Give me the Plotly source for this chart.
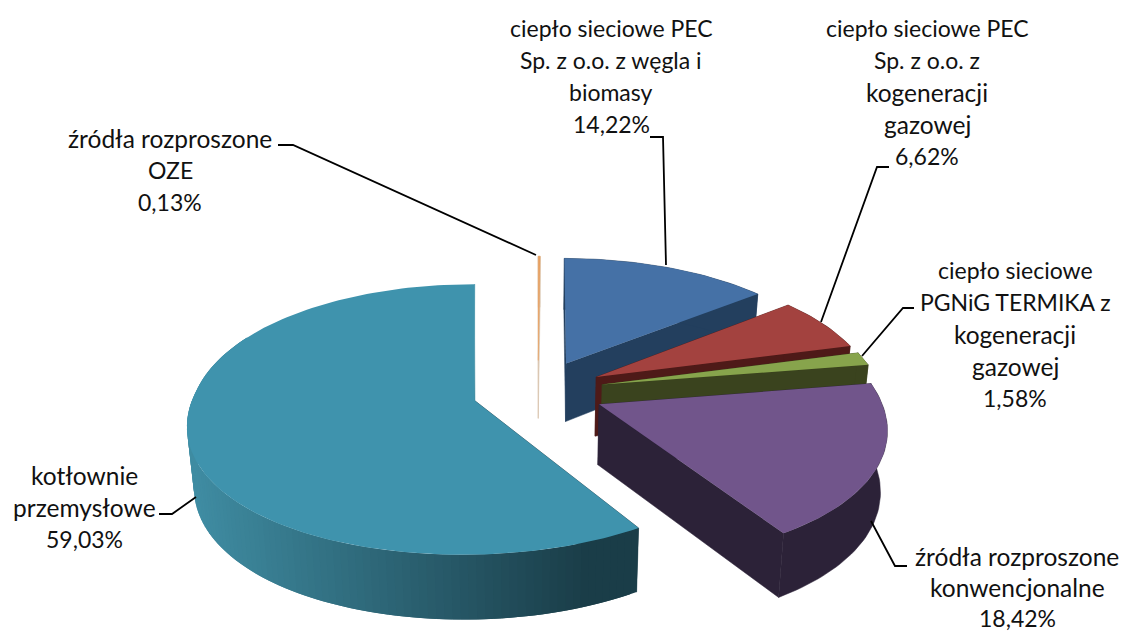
import math
import plotly.graph_objects as go

categories = ["źródła rozproszone OZE", "ciepło sieciowe PEC Sp. z o.o. z węgla i biomasy",
              "ciepło sieciowe PEC Sp. z o.o. z kogeneracji gazowej",
              "ciepło sieciowe PGNiG TERMIKA z kogeneracji gazowej",
              "źródła rozproszone konwencjonalne", "kotłownie przemysłowe"]
values = [0.13, 14.22, 6.62, 1.58, 18.42, 59.03]
label_lines = [["źródła rozproszone", "OZE"],
               ["ciepło sieciowe PEC", "Sp. z o.o. z węgla i", "biomasy"],
               ["ciepło sieciowe PEC", "Sp. z o.o. z", "kogeneracji", "gazowej"],
               ["ciepło sieciowe", "PGNiG TERMIKA z", "kogeneracji", "gazowej"],
               ["źródła rozproszone", "konwencjonalne"],
               ["kotłownie", "przemysłowe"]]
top_colors = ["#E8A060", "#4571A6", "#A3423F", "#87A44C", "#71558B", "#3F93AD"]
side_colors = ["#D8C4AE", "#233F5E", "#4E1A18", "#3A431E", "#2C2238", None]
label_pos = [(170, 138), (611, 28), (927, 28), (1015, 270), (1017, 556), (84, 475)]
label_lh = [32, 32, 32, 32, 31, 32]
leaders = [[(278, 145), (293, 145), (536, 255)],
           [(650, 137), (663, 137), (666, 265)],
           [(889, 167), (877, 167), (821, 322)],
           [(914, 308), (903, 308), (862, 356)],
           [(871, 521), (895, 566), (907, 566)],
           [(196, 497), (172, 514), (159, 514)]]

CX, CY, R, D, A, H = 538, 391, 279, 66, 0.485, 60
KX, KF, KB, TAPER = 0.00055, 0.0004, 0.0007, 0.02
FONT = "Lato"
FS = 23
FS_WIDE = 24.5
WIDE_WORDS = ("źródła", "konwencjonalne", "przemysłowe", "kogeneracji", "gazowej", "kotłownie")


def proj(X, Y, z=0.0, ax=None):
    sx = 1 / (1 - KX * Y)
    sy = 1 / (1 - (KF if Y > 0 else KB) * Y)
    m = 1 - TAPER * z
    if ax is not None and Y < 0:
        px = CX + ax + (X - ax) * sx * m
    else:
        px = CX + X * sx * m
    return px, CY + A * Y * sy * m + H * sy * z


def poly(pts, color, width=0.0):
    xs = [p[0] for p in pts] + [pts[0][0]]
    ys = [p[1] for p in pts] + [pts[0][1]]
    return go.Scatter(x=xs, y=ys, mode="lines", fill="toself", fillcolor=color,
                      line=dict(color=color, width=width), hoverinfo="skip", showlegend=False)


def mix(c1, c2, t):
    a = [int(c1[i:i + 2], 16) for i in (1, 3, 5)]
    b = [int(c2[i:i + 2], 16) for i in (1, 3, 5)]
    return "#" + "".join(f"{round(p + (q - p) * t):02x}" for p, q in zip(a, b))


total = sum(values)
slices = []
start = 0.0
for i, v in enumerate(values):
    end = start + v / total * 2 * math.pi
    slices.append((i, start, end))
    start = end


def build(i, a0, a1):
    out = []
    mid = (a0 + a1) / 2
    ax, ay = D * math.sin(mid), -D * math.cos(mid)
    n = max(2, int((a1 - a0) / 0.025))
    angs = [a0 + (a1 - a0) * j / n for j in range(n + 1)]
    gradient = side_colors[i] is None
    lean = ax if gradient else None
    pt = lambda t, z=0.0: proj(ax + R * math.sin(t), ay - R * math.cos(t), z, lean)
    ap0, ap1 = proj(ax, ay, 0, lean), proj(ax, ay, 1, lean)
    sc = side_colors[i] or "#3F8CA2"
    # cut faces
    out.append(poly([ap0, pt(a0), pt(a0, 1), ap1], "#1A3D48" if gradient else sc, 0.5))
    out.append(poly([ap0, pt(a1), pt(a1, 1), ap1], sc, 0.5))
    # outer wall
    if gradient:
        # visible part only, painted right to left with overlap so no seams show
        vis = [t for t in angs if t < math.radians(300)]
        for j in range(len(vis) - 1):
            t0, t1 = vis[j], vis[min(j + 2, len(vis) - 1)]
            c = mix("#3F8CA2", "#1A3D48", min(1, max(0, (pt(t0)[0] - 195) / 395)))
            mids = [t0 + (t1 - t0) * q / 3 for q in range(4)]
            out.append(poly([pt(t) for t in mids] + [pt(t, 1) for t in reversed(mids)], c))
    else:
        out.append(poly([pt(t) for t in angs] + [pt(t, 1) for t in reversed(angs)], sc, 0.5))
    # top face
    out.append(poly([ap0] + [pt(t) for t in angs], top_colors[i], 0.5 if i == 0 else 0))
    return out


fig = go.Figure()
# painter's order, back to front
for i in [1, 0, 2, 3, 4, 5]:
    fig.add_traces(build(*slices[i]))

for pts in leaders:
    fig.add_trace(go.Scatter(x=[p[0] for p in pts], y=[p[1] for p in pts], mode="lines",
                             line=dict(color="black", width=1.8), hoverinfo="skip", showlegend=False))

for i, lines in enumerate(label_lines):
    x0, y0 = label_pos[i]
    pct = f"{values[i]:.2f}".replace(".", ",") + "%"
    for j, t in enumerate(lines + [pct]):
        size = FS_WIDE if t.split()[0] in WIDE_WORDS else FS
        fig.add_annotation(x=x0, y=y0 + j * label_lh[i], text=t, showarrow=False, xanchor="center", yanchor="middle",
                           font=dict(family=FONT, size=size, color="#111111"))

fig.update_layout(width=1123, height=633, margin=dict(l=0, r=0, t=0, b=0), paper_bgcolor="white",
                  plot_bgcolor="white", showlegend=False,
                  xaxis=dict(range=[0, 1123], visible=False, fixedrange=True),
                  yaxis=dict(range=[633, 0], visible=False, fixedrange=True))
fig.write_html("out.html", config=dict(displayModeBar=False),
               post_script="document.body.style.margin='0';document.body.style.overflow='hidden';")
